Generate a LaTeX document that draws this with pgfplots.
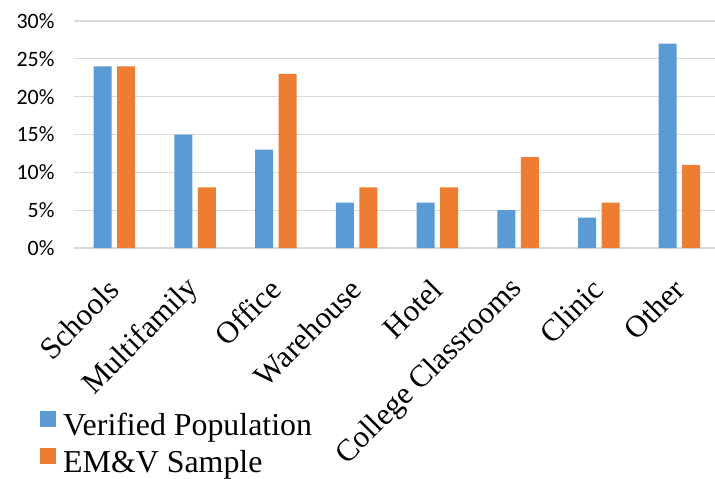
\documentclass[border=0pt]{standalone}
\usepackage{pgfplots}
\pgfplotsset{compat=1.18}
\usepackage{fontspec}
\setmainfont{Liberation Serif}
\newfontfamily\calib{Carlito}
\definecolor{cblue}{HTML}{5B9BD5}
\definecolor{corange}{HTML}{ED7D31}
\definecolor{gridg}{HTML}{D9D9D9}
\begin{document}
\begin{tikzpicture}
\begin{axis}[
  name=ax,
  scale only axis,
  width=641bp, height=227bp,
  xmin=-0.5, xmax=7.44,
  ymin=0, ymax=30,
  ybar, bar width=18bp,
  xtick={0,1,2,3,4,5,6,7},
  xticklabels={Schools,Multifamily,Office,Warehouse,Hotel,College Classrooms,Clinic,Other},
  xticklabel style={font=\fontsize{31}{36}\selectfont, xshift=1bp, yshift=-35bp, rotate=45, anchor=east, inner sep=2bp},
  ytick={0,5,10,15,20,25,30},
  yticklabel={\pgfmathprintnumber{\tick}\%},
  yticklabel style={font=\calib\fontsize{22}{26}\selectfont, /pgf/number format/assume math mode=true, xshift=-16bp},
  major tick length=0pt,
  axis line style={draw=none},
  ymajorgrids, grid style={gridg, line width=1.3bp},
  legend cell align=left,
  legend style={draw=none, fill=none, font=\fontsize{32}{36}\selectfont,
    at={(axis description cs:-0.053,-0.718)}, anchor=north west,
    row sep=5bp, column sep=7bp, inner sep=0pt,
    nodes={inner sep=0pt, text height=24bp, text depth=8bp}},
  legend image code/.code={\fill[#1] (0bp,0bp) rectangle (16bp,16bp);},
]
\addplot[fill=cblue, draw=none, bar shift=-11.75bp] coordinates {(0,24) (1,15) (2,13) (3,6) (4,6) (5,5) (6,4) (7,27)};
\addplot[fill=corange, draw=none, bar shift=11.75bp] coordinates {(0,24) (1,8) (2,23) (3,8) (4,8) (5,12) (6,6) (7,11)};
\legend{Verified Population, EM\&V Sample}
\coordinate (BL) at (rel axis cs:0,0);
\end{axis}
\pgfresetboundingbox
\path (BL) ++(-74bp,-231bp) rectangle ++(715bp,479bp);
\end{tikzpicture}
\end{document}
